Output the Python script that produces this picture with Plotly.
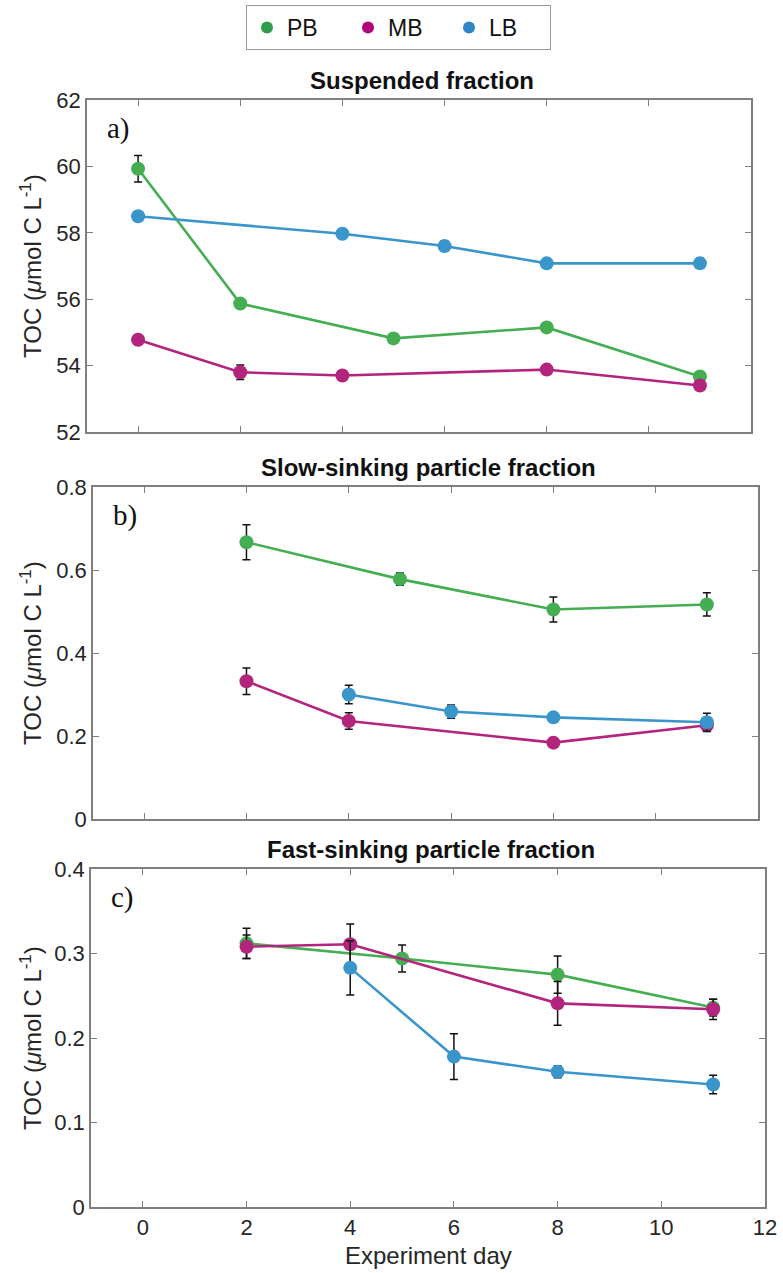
import plotly.graph_objects as go

# ---------------- data ----------------
series = ["PB", "MB", "LB"]
colors = {"PB": "#45ad52", "MB": "#b3247c", "LB": "#3a95cb"}
legend_colors = {"PB": "#2f9e4f", "MB": "#b0087a", "LB": "#2f86c6"}

# Panel a: Suspended fraction
a_pb_x = [0, 2, 5, 8, 11]
a_pb_y = [59.93, 55.87, 54.82, 55.15, 53.67]
a_pb_e = [0.40, 0.10, 0.08, 0.12, 0.05]
a_mb_x = [0, 2, 4, 8, 11]
a_mb_y = [54.78, 53.80, 53.70, 53.88, 53.40]
a_mb_e = [0.12, 0.22, 0.05, 0.08, 0.08]
a_lb_x = [0, 4, 6, 8, 11]
a_lb_y = [58.50, 57.97, 57.60, 57.08, 57.08]
a_lb_e = [0.12, 0.12, 0.15, 0.03, 0.15]

# Panel b: Slow-sinking particle fraction
b_pb_x = [2, 5, 8, 11]
b_pb_y = [0.667, 0.578, 0.505, 0.517]
b_pb_e = [0.042, 0.015, 0.030, 0.028]
b_mb_x = [2, 4, 8, 11]
b_mb_y = [0.332, 0.236, 0.184, 0.226]
b_mb_e = [0.032, 0.020, 0.007, 0.012]
b_lb_x = [4, 6, 8, 11]
b_lb_y = [0.300, 0.259, 0.245, 0.233]
b_lb_e = [0.022, 0.016, 0.005, 0.022]

# Panel c: Fast-sinking particle fraction
c_pb_x = [2, 5, 8, 11]
c_pb_y = [0.312, 0.294, 0.275, 0.236]
c_pb_e = [0.018, 0.016, 0.022, 0.010]
c_mb_x = [2, 4, 8, 11]
c_mb_y = [0.308, 0.311, 0.241, 0.234]
c_mb_e = [0.014, 0.024, 0.026, 0.012]
c_lb_x = [4, 6, 8, 11]
c_lb_y = [0.283, 0.178, 0.160, 0.145]
c_lb_e = [0.032, 0.027, 0.007, 0.011]

panel_titles = ["Suspended fraction", "Slow-sinking particle fraction", "Fast-sinking particle fraction"]
panel_labels = ["a)", "b)", "c)"]
x_ticks = [0, 2, 4, 6, 8, 10, 12]
y_ranges = [[52, 62], [0, 0.8], [0, 0.4]]
y_dticks = [2, 0.2, 0.1]
y_title = "TOC (<i>μ</i>mol C L<sup>-1</sup>)"
x_title = "Experiment day"

panels = [
    {"PB": (a_pb_x, a_pb_y, a_pb_e), "MB": (a_mb_x, a_mb_y, a_mb_e), "LB": (a_lb_x, a_lb_y, a_lb_e)},
    {"PB": (b_pb_x, b_pb_y, b_pb_e), "MB": (b_mb_x, b_mb_y, b_mb_e), "LB": (b_lb_x, b_lb_y, b_lb_e)},
    {"PB": (c_pb_x, c_pb_y, c_pb_e), "MB": (c_mb_x, c_mb_y, c_mb_e), "LB": (c_lb_x, c_lb_y, c_lb_e)},
]

# ---------------- layout geometry (pixel -> paper) ----------------
W, H = 783, 1273
MT, MB_, ML, MR = 75, 0, 0, 0
PW, PH = W - ML - MR, H - MT - MB_


def fx(px):
    return (px - ML) / PW


def fy(py):
    return 1 - (py - MT) / PH


x_domains = [[fx(87), fx(751)], [fx(93), fx(758)], [fx(91), fx(765)]]
y_domains = [[fy(432), fy(100)], [fy(819), fy(487)], [fy(1207), fy(869)]]

fig = go.Figure()
font_family = "Liberation Sans, Arial, sans-serif"
axis_col = "#7f7f7f"
text_col = "#262626"

for i, pdata in enumerate(panels):
    xa = "x" if i == 0 else f"x{i+1}"
    ya = "y" if i == 0 else f"y{i+1}"
    for s in series:
        xs, ys, es = pdata[s]
        fig.add_trace(go.Scatter(
            x=xs, y=ys, mode="lines+markers", xaxis=xa, yaxis=ya,
            line=dict(color=colors[s], width=2.6),
            marker=dict(color=colors[s], size=14),
            error_y=dict(type="data", array=es, visible=True, color="#111111", thickness=1.5, width=4),
            showlegend=False, name=s,
        ))

# legend-only traces (markers only)
for s in series:
    fig.add_trace(go.Scatter(x=[None], y=[None], mode="markers", name=s,
                             marker=dict(color=legend_colors[s], size=11)))

layout = dict(
    width=W, height=H,
    margin=dict(l=ML, r=MR, t=MT, b=MB_, pad=0),
    paper_bgcolor="white", plot_bgcolor="white",
    font=dict(family=font_family, color=text_col),
    legend=dict(orientation="h", xref="container", yref="container",
                x=398.5 / W, xanchor="center", y=1 - 5 / H, yanchor="top",
                bordercolor="#999999", borderwidth=1, font=dict(size=23, color="#111111"),
                itemsizing="constant", entrywidth=56, entrywidthmode="pixels", tracegroupgap=0),
    annotations=[],
)

for i in range(3):
    xkey = "xaxis" if i == 0 else f"xaxis{i+1}"
    ykey = "yaxis" if i == 0 else f"yaxis{i+1}"
    ya = "y" if i == 0 else f"y{i+1}"
    xa = "x" if i == 0 else f"x{i+1}"
    layout[xkey] = dict(
        domain=x_domains[i], anchor=ya, range=[-1, 12], tickvals=x_ticks,
        showticklabels=(i == 2), ticks="inside", ticklen=6, tickcolor=axis_col,
        showline=True, linecolor=axis_col, linewidth=1.5, mirror="ticks",
        showgrid=False, zeroline=False, automargin=False,
        tickfont=dict(size=22, color=text_col),
    )
    layout[ykey] = dict(
        domain=y_domains[i], anchor=xa, range=y_ranges[i], dtick=y_dticks[i], tick0=0,
        ticks="inside", ticklen=6, tickcolor=axis_col,
        showline=True, linecolor=axis_col, linewidth=1.5, mirror="ticks",
        showgrid=False, zeroline=False, automargin=False,
        tickfont=dict(size=22, color=text_col),
    )
    xd, yd = x_domains[i], y_domains[i]
    # panel title
    layout["annotations"].append(dict(
        text=f"<b>{panel_titles[i]}</b>", xref="paper", yref="paper",
        x=(xd[0] + xd[1]) / 2 + 3 / PW, y=yd[1] + 4 / PH, xanchor="center", yanchor="bottom",
        showarrow=False, font=dict(size=24, color="#111111"),
    ))
    # panel label
    layout["annotations"].append(dict(
        text=panel_labels[i], xref="paper", yref="paper",
        x=xd[0] + 18 / PW, y=yd[1] - 10 / PH, xanchor="left", yanchor="top",
        showarrow=False, font=dict(size=29, family="Liberation Serif, Times New Roman, serif", color="#111111"),
    ))
    # y-axis title
    layout["annotations"].append(dict(
        text=y_title, xref="paper", yref="paper", textangle=-90,
        x=fx(31), y=(yd[0] + yd[1]) / 2, xanchor="center", yanchor="middle",
        showarrow=False, font=dict(size=24, color=text_col),
    ))

# x-axis title (bottom panel)
layout["annotations"].append(dict(
    text=x_title, xref="paper", yref="paper",
    x=(x_domains[2][0] + x_domains[2][1]) / 2, y=fy(1255), xanchor="center", yanchor="middle",
    showarrow=False, font=dict(size=24, color=text_col),
))

fig.update_layout(**layout)
fig.write_html("out.html", config={"displayModeBar": False},
               post_script="document.body.style.margin='0';")
